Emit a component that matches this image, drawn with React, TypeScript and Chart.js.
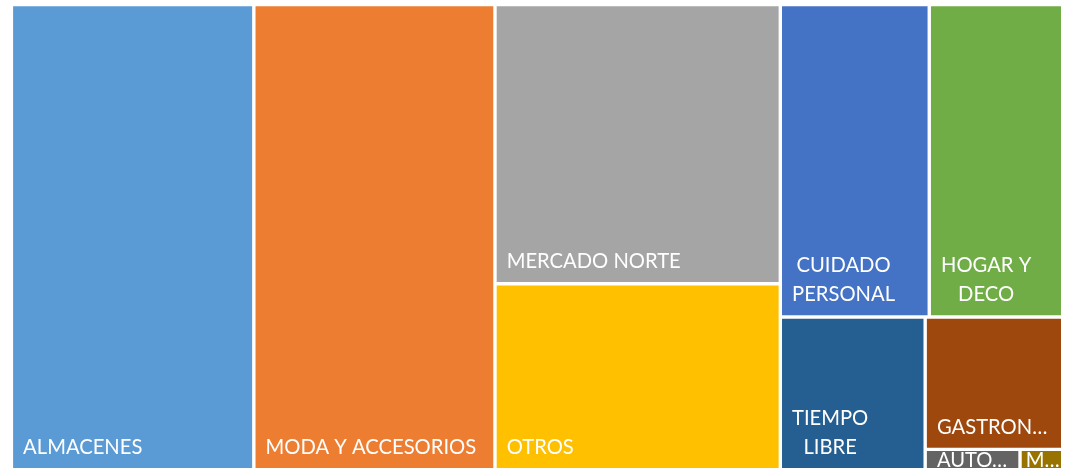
import React, { useEffect, useRef } from 'react';
import { Chart, DatasetController, LinearScale, BarElement } from 'chart.js';

// ---- data ----
const categories = [
  'ALMACENES',
  'MODA Y ACCESORIOS',
  'MERCADO NORTE',
  'OTROS',
  'CUIDADO PERSONAL',
  'HOGAR Y DECO',
  'TIEMPO LIBRE',
  'GASTRONOMÍA',
  'AUTOMOTOR',
  'MASCOTAS',
];
const values = [23.06, 22.94, 16.28, 10.86, 9.51, 8.52, 4.53, 3.72, 0.4, 0.18];
const colors = [
  '#5B9BD5',
  '#ED7D31',
  '#A5A5A5',
  '#FFC000',
  '#4472C4',
  '#70AD47',
  '#255E91',
  '#9E480E',
  '#636363',
  '#997300',
];
// grouping of category indices (rows/columns alternate at each level)
const nesting: any = [0, 1, [2, 3], [[4, 5], [6, [7, [8, 9]]]]];

// ---- styles ----
const FONT_FAMILY = 'Lato, "Open Sans", sans-serif';
const FONT_SIZE = 20.2;
const LINE_HEIGHT = 29.5;
const CAP_HEIGHT = 14.5;
const BOTTOM_PAD = 14;
const BORDER = 1.7;

function nodeSum(node: any, data: number[]): number {
  if (typeof node === 'number') return data[node];
  return node.reduce((s: number, n: any) => s + nodeSum(n, data), 0);
}

function sliceLayout(node: any, data: number[], x0: number, y0: number, x1: number, y1: number, horizontal: boolean, out: any[]) {
  if (typeof node === 'number') {
    out[node] = { x0, y0, x1, y1 };
    return;
  }
  const total = nodeSum(node, data);
  let acc = 0;
  for (const child of node) {
    const v = nodeSum(child, data);
    if (horizontal) {
      const a = x0 + ((x1 - x0) * acc) / total;
      const b = x0 + ((x1 - x0) * (acc + v)) / total;
      sliceLayout(child, data, a, y0, b, y1, !horizontal, out);
    } else {
      const a = y0 + ((y1 - y0) * acc) / total;
      const b = y0 + ((y1 - y0) * (acc + v)) / total;
      sliceLayout(child, data, x0, a, x1, b, !horizontal, out);
    }
    acc += v;
  }
}

function truncate(ctx: CanvasRenderingContext2D, text: string, maxW: number): string {
  if (ctx.measureText(text).width <= maxW) return text;
  let n = text.length - 1;
  while (n > 1 && ctx.measureText(text.slice(0, n) + '…').width > maxW) n--;
  return text.slice(0, Math.max(1, n)) + '…';
}

function wrapLines(ctx: CanvasRenderingContext2D, text: string, maxW: number, maxLines: number): string[] {
  const words = text.split(' ');
  const lines: string[] = [];
  let cur = '';
  for (const w of words) {
    const t = cur ? cur + ' ' + w : w;
    if (!cur || ctx.measureText(t).width <= maxW) cur = t;
    else {
      lines.push(cur);
      cur = w;
    }
  }
  lines.push(cur);
  while (lines.length > maxLines) {
    const last = lines.pop() as string;
    lines[lines.length - 1] += ' ' + last;
  }
  return lines.map((l) => truncate(ctx, l, maxW));
}

class TreemapController extends (DatasetController as any) {
  static id = 'treemap';
  static defaults = { datasetElementType: false, dataElementType: 'bar' };
  static overrides = { scales: { x: { type: 'linear' }, y: { type: 'linear' } } };

  parse(start: number, count: number) {
    const meta = this._cachedMeta;
    const data = this.getDataset().data;
    meta._parsed = meta._parsed || [];
    for (let i = start; i < start + count; i++) meta._parsed[i] = { v: data[i] };
  }

  getMinMax() {
    return { min: 0, max: 1 };
  }

  update(mode: string) {
    const meta = this._cachedMeta;
    this.updateElements(meta.data, 0, meta.data.length, mode);
  }

  updateElements(elements: any[], start: number, count: number) {
    const meta = this._cachedMeta;
    const ds = this.getDataset();
    const rects: any[] = [];
    sliceLayout(ds.tree, ds.data, 0, 0, 1, 1, true, rects);
    const xs = meta.xScale;
    const ys = meta.yScale;
    const bg = ds.backgroundColor;
    for (let i = start; i < start + count; i++) {
      const r = rects[i];
      if (!r) continue;
      const left = xs.getPixelForValue(r.x0);
      const right = xs.getPixelForValue(r.x1);
      const top = ys.getPixelForValue(r.y0);
      const bottom = ys.getPixelForValue(r.y1);
      Object.assign(elements[i], {
        x: (left + right) / 2,
        y: top,
        base: bottom,
        width: right - left,
        height: bottom - top,
        horizontal: false,
        borderSkipped: {},
        inflateAmount: 0,
        enableBorderRadius: false,
        options: {
          backgroundColor: bg[i],
          borderColor: '#ffffff',
          borderWidth: BORDER,
          borderRadius: 0,
          inflateAmount: 0,
        },
      });
    }
  }

  draw() {
    super.draw();
    const ctx: CanvasRenderingContext2D = this._ctx;
    const meta = this._cachedMeta;
    const labels = this.chart.data.labels || [];
    ctx.save();
    ctx.font = `${FONT_SIZE}px ${FONT_FAMILY}`;
    ctx.fillStyle = '#ffffff';
    ctx.textBaseline = 'alphabetic';
    ctx.textAlign = 'center';
    meta.data.forEach((el: any, i: number) => {
      const bw = el.options.borderWidth;
      const left = el.x - el.width / 2 + bw;
      const right = el.x + el.width / 2 - bw;
      const top = Math.min(el.y, el.base) + bw;
      const bottom = Math.max(el.y, el.base) - bw;
      const w = right - left;
      const h = bottom - top;
      if (!(w > 0 && h > 0)) return;
      const pad = w < 60 ? 4 : 10;
      const maxW = w - 2 * pad;
      const maxLines = Math.max(1, Math.floor((h - 2 - CAP_HEIGHT - BOTTOM_PAD) / LINE_HEIGHT) + 1);
      const lines = wrapLines(ctx, String(labels[i] ?? ''), maxW, maxLines);
      const blockW = Math.max(...lines.map((l) => ctx.measureText(l).width));
      let first = bottom - BOTTOM_PAD - (lines.length - 1) * LINE_HEIGHT;
      if (first - CAP_HEIGHT < top + 1) first = top + 1 + CAP_HEIGHT;
      const cx = left + pad + blockW / 2;
      ctx.save();
      ctx.beginPath();
      ctx.rect(left, top, w, h);
      ctx.clip();
      lines.forEach((l, k) => ctx.fillText(l, cx, first + k * LINE_HEIGHT));
      ctx.restore();
    });
    ctx.restore();
  }
}

Chart.register(TreemapController as any, LinearScale, BarElement);

export default function App() {
  const ref = useRef<HTMLCanvasElement>(null);
  useEffect(() => {
    if (!ref.current) return;
    const chart = new Chart(ref.current, {
      type: 'treemap' as any,
      data: {
        labels: categories,
        datasets: [{ label: 'Ventas', data: values, backgroundColor: colors, tree: nesting } as any],
      },
      options: {
        animation: false,
        responsive: true,
        maintainAspectRatio: false,
        events: [],
        layout: { padding: { left: 11.4, top: 4.6, right: 5.3, bottom: 2 } },
        scales: {
          x: { type: 'linear', min: 0, max: 1, display: false },
          y: { type: 'linear', min: 0, max: 1, reverse: true, display: false },
        },
      } as any,
    });
    return () => chart.destroy();
  }, []);
  return (
    <div style={{ position: 'fixed', left: 0, top: 0, width: 1068, height: 472, background: '#ffffff' }}>
      <canvas ref={ref} />
    </div>
  );
}
